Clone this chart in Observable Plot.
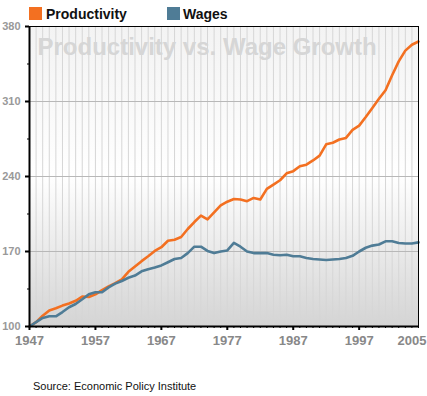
<!DOCTYPE html>
<html>
<head>
<meta charset="utf-8">
<script src="https://cdn.jsdelivr.net/npm/d3@7"></script>
<script src="https://cdn.jsdelivr.net/npm/@observablehq/plot@0.6"></script>
<style>
  body { margin: 0; background: #fff; font-family: "Liberation Sans", Arial, sans-serif; }
  #wrap { position: relative; width: 427px; height: 396px; overflow: hidden; }
  .sw { position: absolute; top: 7px; width: 13px; height: 13px; }
  .lg { position: absolute; top: 7px; font-size: 14px; line-height: 14px; font-weight: bold; color: #111; white-space: nowrap; }
  #chart { position: absolute; left: 0; top: 18px; }
  #src { position: absolute; left: 33px; top: 379px; font-size: 11px; line-height: 14px; color: #111; white-space: nowrap; }
</style>
</head>
<body>
<div id="wrap">
  <div class="sw" style="left:29px;background:#f37021"></div>
  <div class="lg" style="left:46px">Productivity</div>
  <div class="sw" style="left:167px;background:#4f7c96"></div>
  <div class="lg" style="left:183px">Wages</div>
  <div id="chart"></div>
  <div id="src">Source: Economic Policy Institute</div>
</div>
<script>
const title = "Productivity vs. Wage Growth";
const years = d3.range(1947, 2007);
const productivity = [
  100, 104, 110, 115, 117, 119.5, 121.5, 124, 128, 127.5,
  130, 134, 137.5, 140.5, 144, 151, 156, 161, 165.5, 170.5,
  174, 180, 181, 183.5, 191, 197.5, 203.5, 200, 206.5, 213,
  216.5, 219, 218.5, 217, 220, 218.5, 228.5, 232.5, 236.5, 243,
  245, 249.5, 251, 255, 259.5, 270, 271.5, 274.5, 276, 283.5,
  287.5, 295.5, 304, 312.5, 320.5, 334.5, 347.5, 357.5, 363, 366
];
const wages = [
  100, 104, 108, 109.5, 109.5, 113.5, 118, 121, 125.5, 130,
  132, 132, 136.5, 140, 142.5, 145.5, 147.5, 151.5, 153.5, 155,
  157, 160, 163, 164, 168.5, 174.5, 174.5, 170.5, 168.5, 170,
  171, 178, 174.5, 170, 168.5, 168.5, 168.5, 167, 166.5, 167,
  165.5, 165.5, 164, 163, 162.5, 162, 162.5, 163, 164, 166,
  170, 173.5, 175.5, 176.5, 179.5, 179.5, 178, 177.5, 177.5, 178.5
];
const yMajor = [100, 170, 240, 310, 380];
const yMinor = [135, 205, 275, 345];
const xMajor = [1947, 1957, 1967, 1977, 1987, 1997];
const xEndLabel = [2005];
const gridYears = d3.range(1948, 2006);

const rows = years.map((y, i) => ({year: y, productivity: productivity[i], wages: wages[i]}));
const orange = "#f37021";
const blue = "#4f7c96";

const svg = Plot.plot({
  width: 427,
  height: 334,
  marginTop: 8,
  marginLeft: 29,
  marginRight: 9,
  marginBottom: 26,
  style: {background: "transparent", fontFamily: "'Liberation Sans', Arial, sans-serif"},
  x: {domain: [1947, 2006]},
  y: {domain: [100, 380]},
  marks: [
    Plot.frame({fill: "url(#bggrad)", stroke: null}),
    Plot.ruleX(gridYears, {stroke: "#d6d6d6", strokeWidth: 1}),
    Plot.ruleY([170, 240, 310], {stroke: "#b8b8b8", strokeWidth: 1}),
    Plot.text([title], {frameAnchor: "top-left", dx: 8, dy: 11, fontSize: 24, fontWeight: "bold", fill: "#d6d6d6"}),
    Plot.line(rows, {x: "year", y: "productivity", stroke: orange, strokeWidth: 2.6, strokeLinejoin: "round"}),
    Plot.line(rows, {x: "year", y: "wages", stroke: blue, strokeWidth: 2.6, strokeLinejoin: "round"}),
    Plot.frame({stroke: "#000", strokeWidth: 1}),
    Plot.ruleX([1947], {stroke: "#000", strokeWidth: 2}),
    Plot.ruleY([100], {stroke: "#000", strokeWidth: 2}),
    Plot.axisY({ticks: yMajor, tickSize: 4, tickPadding: 5, stroke: "#000", strokeWidth: 2, fill: "#999", fontSize: 11, fontWeight: "bold", label: null}),
    Plot.axisY({ticks: yMinor, tickSize: 2, tickPadding: 0, stroke: "#000", strokeWidth: 1, tickFormat: () => "", label: null}),
    Plot.axisX({ticks: years, tickSize: 2, tickPadding: 0, stroke: "#000", strokeWidth: 1, tickFormat: () => "", label: null}),
    Plot.axisX({ticks: xMajor, tickSize: 4, tickPadding: 5, stroke: "#000", strokeWidth: 2, fill: "#888", fontSize: 13, fontWeight: "bold", tickFormat: "d", label: null}),
    Plot.axisX({ticks: xEndLabel, tickSize: 0, tickPadding: 9, fill: "#888", fontSize: 13, fontWeight: "bold", tickFormat: "d", label: null})
  ]
});

const ns = "http://www.w3.org/2000/svg";
const defs = document.createElementNS(ns, "defs");
const grad = document.createElementNS(ns, "linearGradient");
grad.setAttribute("id", "bggrad");
grad.setAttribute("x1", "0"); grad.setAttribute("y1", "0");
grad.setAttribute("x2", "0"); grad.setAttribute("y2", "1");
[["0", "#f3f3f3"], ["0.5", "#ffffff"], ["1", "#d4d4d4"]].forEach(([o, c]) => {
  const s = document.createElementNS(ns, "stop");
  s.setAttribute("offset", o);
  s.setAttribute("stop-color", c);
  grad.appendChild(s);
});
defs.appendChild(grad);
svg.insertBefore(defs, svg.firstChild);

document.getElementById("chart").appendChild(svg);
</script>
</body>
</html>
